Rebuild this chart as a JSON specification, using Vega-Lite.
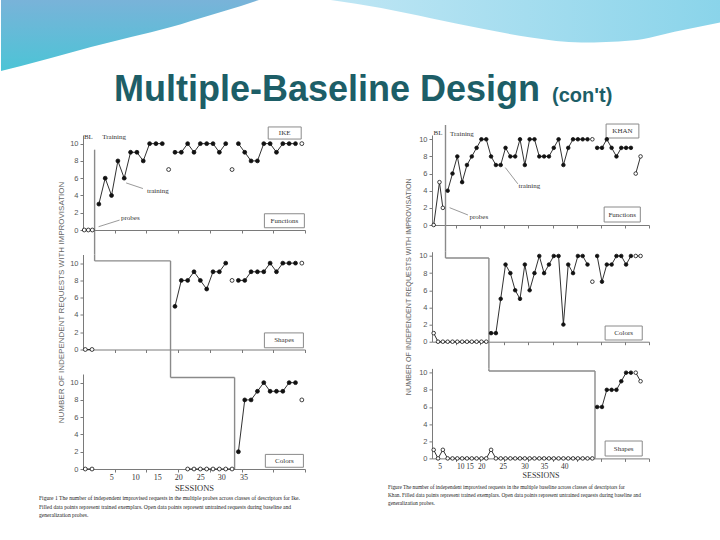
{
  "$schema": "https://vega.github.io/schema/vega-lite/v6.json",
  "padding": 0,
  "background": "white",
  "spacing": 0,
  "config": {
    "view": {"stroke": null},
    "axis": {"grid": false, "domainColor": "#7a7a7a", "tickColor": "#7a7a7a", "tickSize": 3, "domainWidth": 1, "tickWidth": 1, "labelFont": "Liberation Sans", "labelFontSize": 7.5, "labelColor": "#555555", "titleFont": "Liberation Sans", "titleFontWeight": "normal", "titleColor": "#666666"}
  },
  "datasets": {
    "waveA": [
      {"x": 0, "y": 100}, {"x": 2.78, "y": 93}, {"x": 6.94, "y": 81.7}, {"x": 12.5, "y": 66.2}, {"x": 18.06, "y": 52.1},
      {"x": 23.61, "y": 38}, {"x": 29.17, "y": 21.1}, {"x": 33.33, "y": 8.5}, {"x": 35.83, "y": 0}
    ],
    "waveB": [
      {"x": 45.8, "y": 0}, {"x": 52.8, "y": 11.4}, {"x": 59.7, "y": 25.7}, {"x": 66.7, "y": 40}, {"x": 73.6, "y": 52.9},
      {"x": 80.6, "y": 60}, {"x": 87.5, "y": 57.1}, {"x": 94.4, "y": 42.9}, {"x": 100, "y": 31.4}
    ],
    "pts": [
      {"p":"L1","s":"a","k":"o","x":0.2,"y":0},{"p":"L1","s":"a","k":"o","x":0.84,"y":0},{"p":"L1","s":"a","k":"o","x":1.47,"y":0},
      {"p":"L1","s":"b","k":"f","x":2.5,"y":3},{"p":"L1","s":"b","k":"f","x":3.5,"y":6},{"p":"L1","s":"b","k":"f","x":4.5,"y":4},{"p":"L1","s":"b","k":"f","x":5.5,"y":8},{"p":"L1","s":"b","k":"f","x":6.5,"y":6},{"p":"L1","s":"b","k":"f","x":7.5,"y":9},{"p":"L1","s":"b","k":"f","x":8.5,"y":9},{"p":"L1","s":"b","k":"f","x":9.5,"y":8},{"p":"L1","s":"b","k":"f","x":10.5,"y":10},{"p":"L1","s":"b","k":"f","x":11.5,"y":10},{"p":"L1","s":"b","k":"f","x":12.5,"y":10},
      {"p":"L1","s":"c","k":"o","x":13.5,"y":7},
      {"p":"L1","s":"d","k":"f","x":14.5,"y":9},{"p":"L1","s":"d","k":"f","x":15.5,"y":9},{"p":"L1","s":"d","k":"f","x":16.5,"y":10},{"p":"L1","s":"d","k":"f","x":17.5,"y":9},{"p":"L1","s":"d","k":"f","x":18.5,"y":10},{"p":"L1","s":"d","k":"f","x":19.5,"y":10},{"p":"L1","s":"d","k":"f","x":20.5,"y":10},{"p":"L1","s":"d","k":"f","x":21.5,"y":9},{"p":"L1","s":"d","k":"f","x":22.5,"y":10},
      {"p":"L1","s":"e","k":"o","x":23.5,"y":7},
      {"p":"L1","s":"f","k":"f","x":24.5,"y":10},{"p":"L1","s":"f","k":"f","x":25.5,"y":9},{"p":"L1","s":"f","k":"f","x":26.5,"y":8},{"p":"L1","s":"f","k":"f","x":27.5,"y":8},{"p":"L1","s":"f","k":"f","x":28.5,"y":10},{"p":"L1","s":"f","k":"f","x":29.5,"y":10},{"p":"L1","s":"f","k":"f","x":30.5,"y":9},{"p":"L1","s":"f","k":"f","x":31.5,"y":10},{"p":"L1","s":"f","k":"f","x":32.5,"y":10},{"p":"L1","s":"f","k":"f","x":33.5,"y":10},
      {"p":"L1","s":"g","k":"o","x":34.5,"y":10},

      {"p":"L2","s":"a","k":"o","x":0.36,"y":0},{"p":"L2","s":"a","k":"o","x":1.42,"y":0},
      {"p":"L2","s":"b","k":"f","x":14.5,"y":5},{"p":"L2","s":"b","k":"f","x":15.5,"y":8},{"p":"L2","s":"b","k":"f","x":16.5,"y":8},{"p":"L2","s":"b","k":"f","x":17.5,"y":9},{"p":"L2","s":"b","k":"f","x":18.5,"y":8},{"p":"L2","s":"b","k":"f","x":19.5,"y":7},{"p":"L2","s":"b","k":"f","x":20.5,"y":9},{"p":"L2","s":"b","k":"f","x":21.5,"y":9},{"p":"L2","s":"b","k":"f","x":22.5,"y":10},
      {"p":"L2","s":"c","k":"o","x":23.5,"y":8},
      {"p":"L2","s":"d","k":"f","x":24.5,"y":8},{"p":"L2","s":"d","k":"f","x":25.5,"y":8},{"p":"L2","s":"d","k":"f","x":26.5,"y":9},{"p":"L2","s":"d","k":"f","x":27.5,"y":9},{"p":"L2","s":"d","k":"f","x":28.5,"y":9},{"p":"L2","s":"d","k":"f","x":29.5,"y":10},{"p":"L2","s":"d","k":"f","x":30.5,"y":9},{"p":"L2","s":"d","k":"f","x":31.5,"y":10},{"p":"L2","s":"d","k":"f","x":32.5,"y":10},{"p":"L2","s":"d","k":"f","x":33.5,"y":10},
      {"p":"L2","s":"e","k":"o","x":34.5,"y":10},

      {"p":"L3","s":"a","k":"o","x":0.36,"y":0},{"p":"L3","s":"a","k":"o","x":1.42,"y":0},
      {"p":"L3","s":"b","k":"o","x":16.5,"y":0},{"p":"L3","s":"b","k":"o","x":17.5,"y":0},{"p":"L3","s":"b","k":"o","x":18.5,"y":0},{"p":"L3","s":"b","k":"o","x":19.5,"y":0},{"p":"L3","s":"b","k":"o","x":20.5,"y":0},{"p":"L3","s":"b","k":"o","x":21.5,"y":0},{"p":"L3","s":"b","k":"o","x":22.5,"y":0},{"p":"L3","s":"b","k":"o","x":23.5,"y":0},
      {"p":"L3","s":"c","k":"f","x":24.5,"y":2},{"p":"L3","s":"c","k":"f","x":25.5,"y":8},{"p":"L3","s":"c","k":"f","x":26.5,"y":8},{"p":"L3","s":"c","k":"f","x":27.5,"y":9},{"p":"L3","s":"c","k":"f","x":28.5,"y":10},{"p":"L3","s":"c","k":"f","x":29.5,"y":9},{"p":"L3","s":"c","k":"f","x":30.5,"y":9},{"p":"L3","s":"c","k":"f","x":31.5,"y":9},{"p":"L3","s":"c","k":"f","x":32.5,"y":10},{"p":"L3","s":"c","k":"f","x":33.5,"y":10},
      {"p":"L3","s":"d","k":"o","x":34.5,"y":8},

      {"p":"R1","s":"a","k":"o","x":0.35,"y":0},{"p":"R1","s":"a","k":"o","x":1.55,"y":5},{"p":"R1","s":"a","k":"o","x":2.25,"y":2},
      {"p":"R1","s":"b","k":"f","x":3.25,"y":4},{"p":"R1","s":"b","k":"f","x":4.25,"y":6},{"p":"R1","s":"b","k":"f","x":5.25,"y":8},{"p":"R1","s":"b","k":"f","x":6.25,"y":5},{"p":"R1","s":"b","k":"f","x":7.25,"y":7},{"p":"R1","s":"b","k":"f","x":8.25,"y":8},{"p":"R1","s":"b","k":"f","x":9.25,"y":9},{"p":"R1","s":"b","k":"f","x":10.25,"y":10},{"p":"R1","s":"b","k":"f","x":11.25,"y":10},{"p":"R1","s":"b","k":"f","x":12.25,"y":8},{"p":"R1","s":"b","k":"f","x":13.25,"y":7},{"p":"R1","s":"b","k":"f","x":14.25,"y":7},{"p":"R1","s":"b","k":"f","x":15.25,"y":9},{"p":"R1","s":"b","k":"f","x":16.25,"y":8},{"p":"R1","s":"b","k":"f","x":17.25,"y":8},{"p":"R1","s":"b","k":"f","x":18.25,"y":10},{"p":"R1","s":"b","k":"f","x":19.25,"y":7},{"p":"R1","s":"b","k":"f","x":20.25,"y":10},{"p":"R1","s":"b","k":"f","x":21.25,"y":10},{"p":"R1","s":"b","k":"f","x":22.25,"y":8},{"p":"R1","s":"b","k":"f","x":23.25,"y":8},{"p":"R1","s":"b","k":"f","x":24.25,"y":8},{"p":"R1","s":"b","k":"f","x":25.25,"y":9},{"p":"R1","s":"b","k":"f","x":26.25,"y":10},{"p":"R1","s":"b","k":"f","x":27.25,"y":7},{"p":"R1","s":"b","k":"f","x":28.25,"y":9},{"p":"R1","s":"b","k":"f","x":29.25,"y":10},{"p":"R1","s":"b","k":"f","x":30.25,"y":10},{"p":"R1","s":"b","k":"f","x":31.25,"y":10},{"p":"R1","s":"b","k":"f","x":32.25,"y":10},
      {"p":"R1","s":"c","k":"o","x":33.25,"y":10},
      {"p":"R1","s":"d","k":"f","x":34.25,"y":9},{"p":"R1","s":"d","k":"f","x":35.25,"y":9},{"p":"R1","s":"d","k":"f","x":36.25,"y":10},{"p":"R1","s":"d","k":"f","x":37.25,"y":9},{"p":"R1","s":"d","k":"f","x":38.25,"y":8},{"p":"R1","s":"d","k":"f","x":39.25,"y":9},{"p":"R1","s":"d","k":"f","x":40.25,"y":9},{"p":"R1","s":"d","k":"f","x":41.25,"y":9},
      {"p":"R1","s":"e","k":"o","x":42.25,"y":6},{"p":"R1","s":"e","k":"o","x":43.25,"y":8},

      {"p":"R2","s":"a","k":"o","x":0.35,"y":1},{"p":"R2","s":"a","k":"o","x":1.25,"y":0},{"p":"R2","s":"a","k":"o","x":2.25,"y":0},{"p":"R2","s":"a","k":"o","x":3.25,"y":0},{"p":"R2","s":"a","k":"o","x":4.25,"y":0},{"p":"R2","s":"a","k":"o","x":5.25,"y":0},{"p":"R2","s":"a","k":"o","x":6.25,"y":0},{"p":"R2","s":"a","k":"o","x":7.25,"y":0},{"p":"R2","s":"a","k":"o","x":8.25,"y":0},{"p":"R2","s":"a","k":"o","x":9.25,"y":0},{"p":"R2","s":"a","k":"o","x":10.25,"y":0},{"p":"R2","s":"a","k":"o","x":11.25,"y":0},
      {"p":"R2","s":"b","k":"f","x":12.25,"y":1},{"p":"R2","s":"b","k":"f","x":13.25,"y":1},{"p":"R2","s":"b","k":"f","x":14.25,"y":5},{"p":"R2","s":"b","k":"f","x":15.25,"y":9},{"p":"R2","s":"b","k":"f","x":16.25,"y":8},{"p":"R2","s":"b","k":"f","x":17.25,"y":6},{"p":"R2","s":"b","k":"f","x":18.25,"y":5},{"p":"R2","s":"b","k":"f","x":19.25,"y":9},{"p":"R2","s":"b","k":"f","x":20.25,"y":6},{"p":"R2","s":"b","k":"f","x":21.25,"y":8},{"p":"R2","s":"b","k":"f","x":22.25,"y":10},{"p":"R2","s":"b","k":"f","x":23.25,"y":8},{"p":"R2","s":"b","k":"f","x":24.25,"y":9},{"p":"R2","s":"b","k":"f","x":25.25,"y":10},{"p":"R2","s":"b","k":"f","x":26.25,"y":10},{"p":"R2","s":"b","k":"f","x":27.25,"y":2},{"p":"R2","s":"b","k":"f","x":28.25,"y":9},{"p":"R2","s":"b","k":"f","x":29.25,"y":8},{"p":"R2","s":"b","k":"f","x":30.25,"y":10},{"p":"R2","s":"b","k":"f","x":31.25,"y":10},{"p":"R2","s":"b","k":"f","x":32.25,"y":9},
      {"p":"R2","s":"c","k":"o","x":33.25,"y":7},
      {"p":"R2","s":"d","k":"f","x":34.25,"y":10},{"p":"R2","s":"d","k":"f","x":35.25,"y":7},{"p":"R2","s":"d","k":"f","x":36.25,"y":9},{"p":"R2","s":"d","k":"f","x":37.25,"y":9},{"p":"R2","s":"d","k":"f","x":38.25,"y":10},{"p":"R2","s":"d","k":"f","x":39.25,"y":10},{"p":"R2","s":"d","k":"f","x":40.25,"y":9},{"p":"R2","s":"d","k":"f","x":41.25,"y":10},
      {"p":"R2","s":"e","k":"o","x":42.25,"y":10},{"p":"R2","s":"e","k":"o","x":43.25,"y":10},

      {"p":"R3","s":"a","k":"o","x":0.35,"y":1},{"p":"R3","s":"a","k":"o","x":1.25,"y":0},{"p":"R3","s":"a","k":"o","x":2.25,"y":1},{"p":"R3","s":"a","k":"o","x":3.25,"y":0},{"p":"R3","s":"a","k":"o","x":4.25,"y":0},{"p":"R3","s":"a","k":"o","x":5.25,"y":0},{"p":"R3","s":"a","k":"o","x":6.25,"y":0},{"p":"R3","s":"a","k":"o","x":7.25,"y":0},{"p":"R3","s":"a","k":"o","x":8.25,"y":0},{"p":"R3","s":"a","k":"o","x":9.25,"y":0},{"p":"R3","s":"a","k":"o","x":10.25,"y":0},{"p":"R3","s":"a","k":"o","x":11.25,"y":0},{"p":"R3","s":"a","k":"o","x":12.25,"y":1},{"p":"R3","s":"a","k":"o","x":13.25,"y":0},{"p":"R3","s":"a","k":"o","x":14.25,"y":0},{"p":"R3","s":"a","k":"o","x":15.25,"y":0},{"p":"R3","s":"a","k":"o","x":16.25,"y":0},{"p":"R3","s":"a","k":"o","x":17.25,"y":0},{"p":"R3","s":"a","k":"o","x":18.25,"y":0},{"p":"R3","s":"a","k":"o","x":19.25,"y":0},{"p":"R3","s":"a","k":"o","x":20.25,"y":0},{"p":"R3","s":"a","k":"o","x":21.25,"y":0},{"p":"R3","s":"a","k":"o","x":22.25,"y":0},{"p":"R3","s":"a","k":"o","x":23.25,"y":0},{"p":"R3","s":"a","k":"o","x":24.25,"y":0},{"p":"R3","s":"a","k":"o","x":25.25,"y":0},{"p":"R3","s":"a","k":"o","x":26.25,"y":0},{"p":"R3","s":"a","k":"o","x":27.25,"y":0},{"p":"R3","s":"a","k":"o","x":28.25,"y":0},{"p":"R3","s":"a","k":"o","x":29.25,"y":0},{"p":"R3","s":"a","k":"o","x":30.25,"y":0},{"p":"R3","s":"a","k":"o","x":31.25,"y":0},{"p":"R3","s":"a","k":"o","x":32.25,"y":0},{"p":"R3","s":"a","k":"o","x":33.25,"y":0},
      {"p":"R3","s":"b","k":"f","x":34.25,"y":6},{"p":"R3","s":"b","k":"f","x":35.25,"y":6},{"p":"R3","s":"b","k":"f","x":36.25,"y":8},{"p":"R3","s":"b","k":"f","x":37.25,"y":8},{"p":"R3","s":"b","k":"f","x":38.25,"y":8},{"p":"R3","s":"b","k":"f","x":39.25,"y":9},{"p":"R3","s":"b","k":"f","x":40.25,"y":10},{"p":"R3","s":"b","k":"f","x":41.25,"y":10},
      {"p":"R3","s":"c","k":"o","x":42.25,"y":10},{"p":"R3","s":"c","k":"o","x":43.25,"y":9}
    ],
    "steps": [
      {"p":"L1","x":1.83,"y":9.3,"x2":1.83,"y2":-2.84},
      {"p":"L2","x":1.83,"y":11,"x2":1.83,"y2":10.26},
      {"p":"L2","x":1.83,"y":10.26,"x2":13.8,"y2":10.26},
      {"p":"L2","x":13.8,"y":10.26,"x2":13.8,"y2":-2.84},
      {"p":"L3","x":13.8,"y":11,"x2":13.8,"y2":10.6},
      {"p":"L3","x":13.8,"y":10.6,"x2":23.9,"y2":10.6},
      {"p":"L3","x":23.9,"y":10.6,"x2":23.9,"y2":0},
      {"p":"R1","x":2.8,"y":11.67,"x2":2.8,"y2":-3.12},
      {"p":"R2","x":2.8,"y":10.5,"x2":2.8,"y2":9.77},
      {"p":"R2","x":2.8,"y":9.77,"x2":11.8,"y2":9.77},
      {"p":"R2","x":11.8,"y":9.77,"x2":11.8,"y2":-3.12},
      {"p":"R3","x":11.8,"y":10.5,"x2":11.8,"y2":10.2},
      {"p":"R3","x":11.8,"y":10.2,"x2":33.8,"y2":10.2},
      {"p":"R3","x":33.8,"y":10.2,"x2":33.8,"y2":0}
    ],
    "boxes": [
      {"p":"L1","x":29.2,"x2":34.4,"y":11.93,"y2":10.53},
      {"p":"L1","x":28.6,"x2":34.9,"y":1.88,"y2":0.26},
      {"p":"L2","x":28.6,"x2":34.75,"y":1.92,"y2":0.2},
      {"p":"L3","x":28.75,"x2":34.75,"y":1.69,"y2":0.2},
      {"p":"R1","x":36.1,"x2":42.9,"y":11.78,"y2":10.15},
      {"p":"R1","x":35.7,"x2":43.2,"y":2.1,"y2":0.35},
      {"p":"R2","x":35.9,"x2":43.6,"y":1.83,"y2":0.2},
      {"p":"R3","x":35.9,"x2":43.6,"y":2.03,"y2":0.28}
    ],
    "arrows": [
      {"p":"L1","x":9.45,"y":4.8,"x2":6.8,"y2":5.45},
      {"p":"L1","x":5.77,"y":1.15,"x2":2.46,"y2":0.38},
      {"p":"R1","x":17.8,"y":4.8,"x2":15.2,"y2":6.7},
      {"p":"R1","x":7.45,"y":1.17,"x2":3.65,"y2":2.02}
    ],
    "notes": [
      {"p":"L1","t":"IKE","x":31.8,"y":11.23},
      {"p":"L1","t":"Functions","x":31.75,"y":1.07},
      {"p":"L1","t":"BL","x":0.85,"y":10.75},
      {"p":"L1","t":"Training","x":4.9,"y":10.75},
      {"p":"L1","t":"training","x":11.8,"y":4.5},
      {"p":"L1","t":"probes","x":7.46,"y":1.34},
      {"p":"L2","t":"Shapes","x":31.7,"y":1.06},
      {"p":"L3","t":"Colors","x":31.75,"y":0.95},
      {"p":"R1","t":"KHAN","x":39.5,"y":10.97},
      {"p":"R1","t":"Functions","x":39.45,"y":1.22},
      {"p":"R1","t":"BL","x":1.24,"y":10.75},
      {"p":"R1","t":"Training","x":6.2,"y":10.65},
      {"p":"R1","t":"training","x":20.2,"y":4.6},
      {"p":"R1","t":"probes","x":9.7,"y":0.97},
      {"p":"R2","t":"Colors","x":39.75,"y":1.0},
      {"p":"R3","t":"Shapes","x":39.75,"y":1.15}
    ]
  },
  "vconcat": [
    {
      "width": 638,
      "height": 71,
      "layer": [
        {
          "data": {"name": "waveA"},
          "mark": {"type": "area", "orient": "vertical", "interpolate": "monotone", "fill": {"gradient": "linear", "x1": 0, "y1": 0, "x2": 0, "y2": 1, "stops": [{"offset": 0, "color": "#79b3d9"}, {"offset": 1, "color": "#4cc4d6"}]}},
          "encoding": {
            "x": {"field": "x", "type": "quantitative", "scale": {"domain": [11.39, 100], "nice": false, "zero": false}, "axis": null},
            "y": {"field": "y", "type": "quantitative", "scale": {"domain": [0, 100], "reverse": true, "nice": false}, "axis": null},
            "y2": {"datum": 0}
          }
        },
        {
          "data": {"name": "waveB"},
          "mark": {"type": "area", "orient": "vertical", "interpolate": "monotone", "fill": {"gradient": "linear", "x1": 0, "y1": 0, "x2": 1, "y2": 0, "stops": [{"offset": 0, "color": "#bfe6f4"}, {"offset": 1, "color": "#8ad4ea"}]}},
          "encoding": {
            "x": {"field": "x", "type": "quantitative", "scale": {"domain": [11.39, 100], "nice": false, "zero": false}, "axis": null},
            "y": {"field": "y", "type": "quantitative", "scale": {"domain": [0, 100], "reverse": true, "nice": false}, "axis": null},
            "y2": {"datum": 0}
          }
        }
      ]
    },
    {
      "bounds": "flush",
      "spacing": 349,
      "hconcat": [
        {
          "title": {"text": "Multiple-Baseline Design", "anchor": "start", "frame": "group", "dx": 31, "offset": 17.6, "fontSize": 36, "font": "Liberation Sans", "fontWeight": "bold", "color": "#1d5e67"},
          "vconcat": [
            {
              "title": {"text": ["Figure 1    The number of independent improvised requests in the multiple probes across classes of descriptors for Ike.", "Filled data points represent trained exemplars. Open data points represent untrained requests during baseline and", "generalization probes."], "orient": "bottom", "anchor": "start", "frame": "group", "dx": -44, "offset": 4.5, "fontSize": 5.6, "lineHeight": 8.5, "font": "Liberation Serif", "fontWeight": "normal", "color": "#222222"},
              "bounds": "flush",
              "spacing": 24.5,
              "vconcat": [
                {
                  "width": 222, "height": 95,
                  "encoding": {
                    "x": {"field": "x", "type": "quantitative", "scale": {"domain": [0, 35], "nice": false, "zero": false}, "axis": {"values": [5, 10, 15, 20, 25, 30, 35], "labels": false, "title": null}},
                    "y": {"field": "y", "type": "quantitative", "scale": {"domain": [0, 11], "nice": false, "zero": false}, "axis": {"values": [0, 2, 4, 6, 8, 10], "title": null, "labelPadding": 2}}
                  },
                  "layer": [
                    {"data": {"name": "steps"}, "transform": [{"filter": "datum.p === 'L1'"}], "mark": {"type": "rule", "color": "#8a8a8a", "strokeWidth": 1.4}, "encoding": {"x2": {"field": "x2"}, "y2": {"field": "y2"}}},
                    {"data": {"name": "boxes"}, "transform": [{"filter": "datum.p === 'L1'"}], "mark": {"type": "rect", "fill": "#ffffff", "stroke": "#8a8a8a", "strokeWidth": 1}, "encoding": {"x2": {"field": "x2"}, "y2": {"field": "y2"}}},
                    {"data": {"name": "pts"}, "transform": [{"filter": "datum.p === 'L1'"}], "mark": {"type": "line", "color": "#1a1a1a", "strokeWidth": 0.9}, "encoding": {"detail": {"field": "s", "type": "nominal"}}},
                    {"data": {"name": "pts"}, "transform": [{"filter": "datum.p === 'L1'"}], "mark": {"type": "point", "shape": "circle", "filled": true, "size": 15, "opacity": 1, "stroke": "#111111", "strokeWidth": 0.8}, "encoding": {"fill": {"field": "k", "type": "nominal", "scale": {"domain": ["f", "o"], "range": ["#111111", "#ffffff"]}, "legend": null}}},
                    {"data": {"name": "arrows"}, "transform": [{"filter": "datum.p === 'L1'"}], "mark": {"type": "rule", "color": "#555555", "strokeWidth": 0.6}, "encoding": {"x2": {"field": "x2"}, "y2": {"field": "y2"}}},
                    {"data": {"name": "notes"}, "transform": [{"filter": "datum.p === 'L1'"}], "mark": {"type": "text", "font": "Liberation Serif", "fontSize": 7, "color": "#333333"}, "encoding": {"text": {"field": "t", "type": "nominal"}}}
                  ]
                },
                {
                  "width": 222, "height": 95,
                  "encoding": {
                    "x": {"field": "x", "type": "quantitative", "scale": {"domain": [0, 35], "nice": false, "zero": false}, "axis": {"values": [5, 10, 15, 20, 25, 30, 35], "labels": false, "title": null}},
                    "y": {"field": "y", "type": "quantitative", "scale": {"domain": [0, 11], "nice": false, "zero": false}, "axis": {"values": [0, 2, 4, 6, 8, 10], "labelPadding": 2, "title": "NUMBER OF INDEPENDENT REQUESTS WITH IMPROVISATION", "titleFontSize": 8, "titleColor": "#666666", "titlePadding": 4}}
                  },
                  "layer": [
                    {"data": {"name": "steps"}, "transform": [{"filter": "datum.p === 'L2'"}], "mark": {"type": "rule", "color": "#8a8a8a", "strokeWidth": 1.4}, "encoding": {"x2": {"field": "x2"}, "y2": {"field": "y2"}}},
                    {"data": {"name": "boxes"}, "transform": [{"filter": "datum.p === 'L2'"}], "mark": {"type": "rect", "fill": "#ffffff", "stroke": "#8a8a8a", "strokeWidth": 1}, "encoding": {"x2": {"field": "x2"}, "y2": {"field": "y2"}}},
                    {"data": {"name": "pts"}, "transform": [{"filter": "datum.p === 'L2'"}], "mark": {"type": "line", "color": "#1a1a1a", "strokeWidth": 0.9}, "encoding": {"detail": {"field": "s", "type": "nominal"}}},
                    {"data": {"name": "pts"}, "transform": [{"filter": "datum.p === 'L2'"}], "mark": {"type": "point", "shape": "circle", "filled": true, "size": 15, "opacity": 1, "stroke": "#111111", "strokeWidth": 0.8}, "encoding": {"fill": {"field": "k", "type": "nominal", "scale": {"domain": ["f", "o"], "range": ["#111111", "#ffffff"]}, "legend": null}}},
                    {"data": {"name": "notes"}, "transform": [{"filter": "datum.p === 'L2'"}], "mark": {"type": "text", "font": "Liberation Serif", "fontSize": 7, "color": "#333333"}, "encoding": {"text": {"field": "t", "type": "nominal"}}}
                  ]
                },
                {
                  "width": 222, "height": 95,
                  "encoding": {
                    "x": {"field": "x", "type": "quantitative", "scale": {"domain": [0, 35], "nice": false, "zero": false}, "axis": {"values": [5, 10, 15, 20, 25, 30, 35, 4.46, 8.25, 11.72, 15.03, 18.5, 21.8, 25.3], "labelExpr": "datum.value % 5 === 0 ? '' : datum.value < 6 ? '5' : datum.value < 10 ? '10' : datum.value < 13 ? '15' : datum.value < 16 ? '20' : datum.value < 20 ? '25' : datum.value < 23 ? '30' : '35'", "tickOpacity": {"condition": {"test": "datum.value % 5 === 0", "value": 1}, "value": 0}, "labelOverlap": false, "labelFlush": false, "labelFont": "Liberation Serif", "labelFontSize": 8, "labelColor": "#333333", "labelPadding": 1, "title": "SESSIONS", "titleFont": "Liberation Serif", "titleFontSize": 8.5, "titleColor": "#333333", "titlePadding": 2}},
                    "y": {"field": "y", "type": "quantitative", "scale": {"domain": [0, 11], "nice": false, "zero": false}, "axis": {"values": [0, 2, 4, 6, 8, 10], "title": null, "labelPadding": 2}}
                  },
                  "layer": [
                    {"data": {"name": "steps"}, "transform": [{"filter": "datum.p === 'L3'"}], "mark": {"type": "rule", "color": "#8a8a8a", "strokeWidth": 1.4}, "encoding": {"x2": {"field": "x2"}, "y2": {"field": "y2"}}},
                    {"data": {"name": "boxes"}, "transform": [{"filter": "datum.p === 'L3'"}], "mark": {"type": "rect", "fill": "#ffffff", "stroke": "#8a8a8a", "strokeWidth": 1}, "encoding": {"x2": {"field": "x2"}, "y2": {"field": "y2"}}},
                    {"data": {"name": "pts"}, "transform": [{"filter": "datum.p === 'L3'"}], "mark": {"type": "line", "color": "#1a1a1a", "strokeWidth": 0.9}, "encoding": {"detail": {"field": "s", "type": "nominal"}}},
                    {"data": {"name": "pts"}, "transform": [{"filter": "datum.p === 'L3'"}], "mark": {"type": "point", "shape": "circle", "filled": true, "size": 15, "opacity": 1, "stroke": "#111111", "strokeWidth": 0.8}, "encoding": {"fill": {"field": "k", "type": "nominal", "scale": {"domain": ["f", "o"], "range": ["#111111", "#ffffff"]}, "legend": null}}},
                    {"data": {"name": "notes"}, "transform": [{"filter": "datum.p === 'L3'"}], "mark": {"type": "text", "font": "Liberation Serif", "fontSize": 7, "color": "#333333"}, "encoding": {"text": {"field": "t", "type": "nominal"}}}
                  ]
                }
              ]
            }
          ]
        },
        {
          "title": {"text": "(con't)", "anchor": "start", "frame": "group", "dx": 120, "offset": 17.8, "fontSize": 20, "font": "Liberation Sans", "fontWeight": "bold", "color": "#1d5e67"},
          "vconcat": [
            {
              "title": {"text": ["Figure      The number of independent improvised requests in the multiple baseline across classes of descriptors for", "Khan. Filled data points represent trained exemplars. Open data points represent untrained requests during baseline and", "generalization probes."], "orient": "bottom", "anchor": "start", "frame": "group", "dx": -44, "offset": 4.8, "fontSize": 5.3, "lineHeight": 8.3, "font": "Liberation Serif", "fontWeight": "normal", "color": "#222222"},
              "bounds": "flush",
              "spacing": 26.7,
              "vconcat": [
                {
                  "width": 217, "height": 90,
                  "encoding": {
                    "x": {"field": "x", "type": "quantitative", "scale": {"domain": [0, 45], "nice": false, "zero": false}, "axis": {"values": [5, 10, 15, 20, 25, 30, 35, 40, 45], "labels": false, "title": null}},
                    "y": {"field": "y", "type": "quantitative", "scale": {"domain": [0, 10.5], "nice": false, "zero": false}, "axis": {"values": [0, 2, 4, 6, 8, 10], "title": null, "labelPadding": 2}}
                  },
                  "layer": [
                    {"data": {"name": "steps"}, "transform": [{"filter": "datum.p === 'R1'"}], "mark": {"type": "rule", "color": "#8a8a8a", "strokeWidth": 1.4}, "encoding": {"x2": {"field": "x2"}, "y2": {"field": "y2"}}},
                    {"data": {"name": "boxes"}, "transform": [{"filter": "datum.p === 'R1'"}], "mark": {"type": "rect", "fill": "#ffffff", "stroke": "#8a8a8a", "strokeWidth": 1}, "encoding": {"x2": {"field": "x2"}, "y2": {"field": "y2"}}},
                    {"data": {"name": "pts"}, "transform": [{"filter": "datum.p === 'R1'"}], "mark": {"type": "line", "color": "#1a1a1a", "strokeWidth": 0.9}, "encoding": {"detail": {"field": "s", "type": "nominal"}}},
                    {"data": {"name": "pts"}, "transform": [{"filter": "datum.p === 'R1'"}], "mark": {"type": "point", "shape": "circle", "filled": true, "size": 13, "opacity": 1, "stroke": "#111111", "strokeWidth": 0.8}, "encoding": {"fill": {"field": "k", "type": "nominal", "scale": {"domain": ["f", "o"], "range": ["#111111", "#ffffff"]}, "legend": null}}},
                    {"data": {"name": "arrows"}, "transform": [{"filter": "datum.p === 'R1'"}], "mark": {"type": "rule", "color": "#555555", "strokeWidth": 0.6}, "encoding": {"x2": {"field": "x2"}, "y2": {"field": "y2"}}},
                    {"data": {"name": "notes"}, "transform": [{"filter": "datum.p === 'R1'"}], "mark": {"type": "text", "font": "Liberation Serif", "fontSize": 7, "color": "#333333"}, "encoding": {"text": {"field": "t", "type": "nominal"}}}
                  ]
                },
                {
                  "width": 217, "height": 90,
                  "encoding": {
                    "x": {"field": "x", "type": "quantitative", "scale": {"domain": [0, 45], "nice": false, "zero": false}, "axis": {"values": [5, 10, 15, 20, 25, 30, 35, 40, 45], "labels": false, "title": null}},
                    "y": {"field": "y", "type": "quantitative", "scale": {"domain": [0, 10.5], "nice": false, "zero": false}, "axis": {"values": [0, 2, 4, 6, 8, 10], "labelPadding": 2, "title": "NUMBER OF INDEPENDENT REQUESTS WITH IMPROVISATION", "titleFontSize": 7.2, "titleColor": "#666666", "titlePadding": 6, "titleY": 34.5}}
                  },
                  "layer": [
                    {"data": {"name": "steps"}, "transform": [{"filter": "datum.p === 'R2'"}], "mark": {"type": "rule", "color": "#8a8a8a", "strokeWidth": 1.4}, "encoding": {"x2": {"field": "x2"}, "y2": {"field": "y2"}}},
                    {"data": {"name": "boxes"}, "transform": [{"filter": "datum.p === 'R2'"}], "mark": {"type": "rect", "fill": "#ffffff", "stroke": "#8a8a8a", "strokeWidth": 1}, "encoding": {"x2": {"field": "x2"}, "y2": {"field": "y2"}}},
                    {"data": {"name": "pts"}, "transform": [{"filter": "datum.p === 'R2'"}], "mark": {"type": "line", "color": "#1a1a1a", "strokeWidth": 0.9}, "encoding": {"detail": {"field": "s", "type": "nominal"}}},
                    {"data": {"name": "pts"}, "transform": [{"filter": "datum.p === 'R2'"}], "mark": {"type": "point", "shape": "circle", "filled": true, "size": 13, "opacity": 1, "stroke": "#111111", "strokeWidth": 0.8}, "encoding": {"fill": {"field": "k", "type": "nominal", "scale": {"domain": ["f", "o"], "range": ["#111111", "#ffffff"]}, "legend": null}}},
                    {"data": {"name": "notes"}, "transform": [{"filter": "datum.p === 'R2'"}], "mark": {"type": "text", "font": "Liberation Serif", "fontSize": 7, "color": "#333333"}, "encoding": {"text": {"field": "t", "type": "nominal"}}}
                  ]
                },
                {
                  "width": 217, "height": 90,
                  "encoding": {
                    "x": {"field": "x", "type": "quantitative", "scale": {"domain": [0, 45], "nice": false, "zero": false}, "axis": {"values": [5, 10, 15, 20, 25, 30, 35, 40, 45, 1.57, 5.86, 7.8, 10.2, 14.66, 19.17, 23.2, 27.4], "labelExpr": "datum.value % 5 === 0 ? '' : datum.value < 3 ? '5' : datum.value < 7 ? '10' : datum.value < 9 ? '15' : datum.value < 12 ? '20' : datum.value < 17 ? '25' : datum.value < 21 ? '30' : datum.value < 25 ? '35' : '40'", "tickOpacity": {"condition": {"test": "datum.value % 5 === 0", "value": 1}, "value": 0}, "labelOverlap": false, "labelFlush": false, "labelFont": "Liberation Serif", "labelFontSize": 7.5, "labelColor": "#333333", "labelPadding": 1, "title": "SESSIONS", "titleFont": "Liberation Serif", "titleFontSize": 8, "titleColor": "#333333", "titlePadding": 2}},
                    "y": {"field": "y", "type": "quantitative", "scale": {"domain": [0, 10.5], "nice": false, "zero": false}, "axis": {"values": [0, 2, 4, 6, 8, 10], "title": null, "labelPadding": 2}}
                  },
                  "layer": [
                    {"data": {"name": "steps"}, "transform": [{"filter": "datum.p === 'R3'"}], "mark": {"type": "rule", "color": "#8a8a8a", "strokeWidth": 1.4}, "encoding": {"x2": {"field": "x2"}, "y2": {"field": "y2"}}},
                    {"data": {"name": "boxes"}, "transform": [{"filter": "datum.p === 'R3'"}], "mark": {"type": "rect", "fill": "#ffffff", "stroke": "#8a8a8a", "strokeWidth": 1}, "encoding": {"x2": {"field": "x2"}, "y2": {"field": "y2"}}},
                    {"data": {"name": "pts"}, "transform": [{"filter": "datum.p === 'R3'"}], "mark": {"type": "line", "color": "#1a1a1a", "strokeWidth": 0.9}, "encoding": {"detail": {"field": "s", "type": "nominal"}}},
                    {"data": {"name": "pts"}, "transform": [{"filter": "datum.p === 'R3'"}], "mark": {"type": "point", "shape": "circle", "filled": true, "size": 13, "opacity": 1, "stroke": "#111111", "strokeWidth": 0.8}, "encoding": {"fill": {"field": "k", "type": "nominal", "scale": {"domain": ["f", "o"], "range": ["#111111", "#ffffff"]}, "legend": null}}},
                    {"data": {"name": "notes"}, "transform": [{"filter": "datum.p === 'R3'"}], "mark": {"type": "text", "font": "Liberation Serif", "fontSize": 7, "color": "#333333"}, "encoding": {"text": {"field": "t", "type": "nominal"}}}
                  ]
                }
              ]
            }
          ]
        }
      ]
    }
  ]
}
